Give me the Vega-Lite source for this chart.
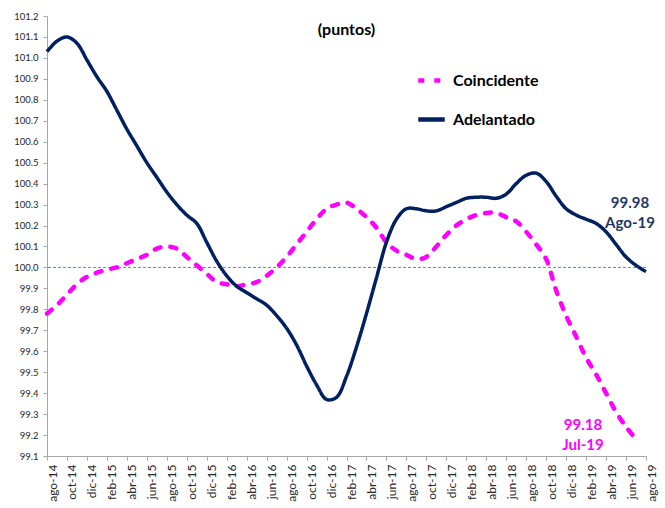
{
  "$schema": "https://vega.github.io/schema/vega-lite/v6.json",
  "autosize": {"type": "none"},
  "width": 599,
  "height": 440,
  "padding": {"left": 47, "top": 16, "right": 19, "bottom": 52},
  "background": "white",
  "title": {"text": "(puntos)", "fontSize": 16, "fontWeight": "bold", "font": "Lato", "color": "black", "anchor": "middle", "offset": -27},
  "datasets": {
    "series": [
      {"mes": "ago-14", "serie": "Adelantado", "v": 101.03},
      {"mes": "sep-14", "serie": "Adelantado", "v": 101.08},
      {"mes": "oct-14", "serie": "Adelantado", "v": 101.10},
      {"mes": "nov-14", "serie": "Adelantado", "v": 101.07},
      {"mes": "dic-14", "serie": "Adelantado", "v": 100.99},
      {"mes": "ene-15", "serie": "Adelantado", "v": 100.91},
      {"mes": "feb-15", "serie": "Adelantado", "v": 100.84},
      {"mes": "mar-15", "serie": "Adelantado", "v": 100.75},
      {"mes": "abr-15", "serie": "Adelantado", "v": 100.66},
      {"mes": "may-15", "serie": "Adelantado", "v": 100.58},
      {"mes": "jun-15", "serie": "Adelantado", "v": 100.50},
      {"mes": "jul-15", "serie": "Adelantado", "v": 100.43},
      {"mes": "ago-15", "serie": "Adelantado", "v": 100.36},
      {"mes": "sep-15", "serie": "Adelantado", "v": 100.30},
      {"mes": "oct-15", "serie": "Adelantado", "v": 100.25},
      {"mes": "nov-15", "serie": "Adelantado", "v": 100.21},
      {"mes": "dic-15", "serie": "Adelantado", "v": 100.12},
      {"mes": "ene-16", "serie": "Adelantado", "v": 100.03},
      {"mes": "feb-16", "serie": "Adelantado", "v": 99.96},
      {"mes": "mar-16", "serie": "Adelantado", "v": 99.91},
      {"mes": "abr-16", "serie": "Adelantado", "v": 99.88},
      {"mes": "may-16", "serie": "Adelantado", "v": 99.85},
      {"mes": "jun-16", "serie": "Adelantado", "v": 99.82},
      {"mes": "jul-16", "serie": "Adelantado", "v": 99.77},
      {"mes": "ago-16", "serie": "Adelantado", "v": 99.71},
      {"mes": "sep-16", "serie": "Adelantado", "v": 99.63},
      {"mes": "oct-16", "serie": "Adelantado", "v": 99.53},
      {"mes": "nov-16", "serie": "Adelantado", "v": 99.44},
      {"mes": "dic-16", "serie": "Adelantado", "v": 99.37},
      {"mes": "ene-17", "serie": "Adelantado", "v": 99.38},
      {"mes": "feb-17", "serie": "Adelantado", "v": 99.48},
      {"mes": "mar-17", "serie": "Adelantado", "v": 99.62},
      {"mes": "abr-17", "serie": "Adelantado", "v": 99.78},
      {"mes": "may-17", "serie": "Adelantado", "v": 99.95},
      {"mes": "jun-17", "serie": "Adelantado", "v": 100.12},
      {"mes": "jul-17", "serie": "Adelantado", "v": 100.23},
      {"mes": "ago-17", "serie": "Adelantado", "v": 100.28},
      {"mes": "sep-17", "serie": "Adelantado", "v": 100.28},
      {"mes": "oct-17", "serie": "Adelantado", "v": 100.27},
      {"mes": "nov-17", "serie": "Adelantado", "v": 100.27},
      {"mes": "dic-17", "serie": "Adelantado", "v": 100.29},
      {"mes": "ene-18", "serie": "Adelantado", "v": 100.31},
      {"mes": "feb-18", "serie": "Adelantado", "v": 100.33},
      {"mes": "mar-18", "serie": "Adelantado", "v": 100.335},
      {"mes": "abr-18", "serie": "Adelantado", "v": 100.335},
      {"mes": "may-18", "serie": "Adelantado", "v": 100.33},
      {"mes": "jun-18", "serie": "Adelantado", "v": 100.35},
      {"mes": "jul-18", "serie": "Adelantado", "v": 100.40},
      {"mes": "ago-18", "serie": "Adelantado", "v": 100.44},
      {"mes": "sep-18", "serie": "Adelantado", "v": 100.45},
      {"mes": "oct-18", "serie": "Adelantado", "v": 100.41},
      {"mes": "nov-18", "serie": "Adelantado", "v": 100.34},
      {"mes": "dic-18", "serie": "Adelantado", "v": 100.28},
      {"mes": "ene-19", "serie": "Adelantado", "v": 100.25},
      {"mes": "feb-19", "serie": "Adelantado", "v": 100.23},
      {"mes": "mar-19", "serie": "Adelantado", "v": 100.21},
      {"mes": "abr-19", "serie": "Adelantado", "v": 100.17},
      {"mes": "may-19", "serie": "Adelantado", "v": 100.11},
      {"mes": "jun-19", "serie": "Adelantado", "v": 100.05},
      {"mes": "jul-19", "serie": "Adelantado", "v": 100.01},
      {"mes": "ago-19", "serie": "Adelantado", "v": 99.98},
      {"mes": "ago-14", "serie": "Coincidente", "v": 99.78},
      {"mes": "sep-14", "serie": "Coincidente", "v": 99.82},
      {"mes": "oct-14", "serie": "Coincidente", "v": 99.87},
      {"mes": "nov-14", "serie": "Coincidente", "v": 99.92},
      {"mes": "dic-14", "serie": "Coincidente", "v": 99.955},
      {"mes": "ene-15", "serie": "Coincidente", "v": 99.975},
      {"mes": "feb-15", "serie": "Coincidente", "v": 99.99},
      {"mes": "mar-15", "serie": "Coincidente", "v": 100.00},
      {"mes": "abr-15", "serie": "Coincidente", "v": 100.02},
      {"mes": "may-15", "serie": "Coincidente", "v": 100.04},
      {"mes": "jun-15", "serie": "Coincidente", "v": 100.06},
      {"mes": "jul-15", "serie": "Coincidente", "v": 100.09},
      {"mes": "ago-15", "serie": "Coincidente", "v": 100.10},
      {"mes": "sep-15", "serie": "Coincidente", "v": 100.09},
      {"mes": "oct-15", "serie": "Coincidente", "v": 100.05},
      {"mes": "nov-15", "serie": "Coincidente", "v": 100.01},
      {"mes": "dic-15", "serie": "Coincidente", "v": 99.97},
      {"mes": "ene-16", "serie": "Coincidente", "v": 99.93},
      {"mes": "feb-16", "serie": "Coincidente", "v": 99.92},
      {"mes": "mar-16", "serie": "Coincidente", "v": 99.91},
      {"mes": "abr-16", "serie": "Coincidente", "v": 99.92},
      {"mes": "may-16", "serie": "Coincidente", "v": 99.93},
      {"mes": "jun-16", "serie": "Coincidente", "v": 99.96},
      {"mes": "jul-16", "serie": "Coincidente", "v": 100.00},
      {"mes": "ago-16", "serie": "Coincidente", "v": 100.05},
      {"mes": "sep-16", "serie": "Coincidente", "v": 100.11},
      {"mes": "oct-16", "serie": "Coincidente", "v": 100.17},
      {"mes": "nov-16", "serie": "Coincidente", "v": 100.23},
      {"mes": "dic-16", "serie": "Coincidente", "v": 100.28},
      {"mes": "ene-17", "serie": "Coincidente", "v": 100.30},
      {"mes": "feb-17", "serie": "Coincidente", "v": 100.31},
      {"mes": "mar-17", "serie": "Coincidente", "v": 100.28},
      {"mes": "abr-17", "serie": "Coincidente", "v": 100.24},
      {"mes": "may-17", "serie": "Coincidente", "v": 100.19},
      {"mes": "jun-17", "serie": "Coincidente", "v": 100.12},
      {"mes": "jul-17", "serie": "Coincidente", "v": 100.08},
      {"mes": "ago-17", "serie": "Coincidente", "v": 100.06},
      {"mes": "sep-17", "serie": "Coincidente", "v": 100.04},
      {"mes": "oct-17", "serie": "Coincidente", "v": 100.05},
      {"mes": "nov-17", "serie": "Coincidente", "v": 100.10},
      {"mes": "dic-17", "serie": "Coincidente", "v": 100.155},
      {"mes": "ene-18", "serie": "Coincidente", "v": 100.20},
      {"mes": "feb-18", "serie": "Coincidente", "v": 100.23},
      {"mes": "mar-18", "serie": "Coincidente", "v": 100.25},
      {"mes": "abr-18", "serie": "Coincidente", "v": 100.26},
      {"mes": "may-18", "serie": "Coincidente", "v": 100.26},
      {"mes": "jun-18", "serie": "Coincidente", "v": 100.24},
      {"mes": "jul-18", "serie": "Coincidente", "v": 100.22},
      {"mes": "ago-18", "serie": "Coincidente", "v": 100.17},
      {"mes": "sep-18", "serie": "Coincidente", "v": 100.11},
      {"mes": "oct-18", "serie": "Coincidente", "v": 100.04},
      {"mes": "nov-18", "serie": "Coincidente", "v": 99.89},
      {"mes": "dic-18", "serie": "Coincidente", "v": 99.77},
      {"mes": "ene-19", "serie": "Coincidente", "v": 99.67},
      {"mes": "feb-19", "serie": "Coincidente", "v": 99.57},
      {"mes": "mar-19", "serie": "Coincidente", "v": 99.49},
      {"mes": "abr-19", "serie": "Coincidente", "v": 99.40},
      {"mes": "may-19", "serie": "Coincidente", "v": 99.31},
      {"mes": "jun-19", "serie": "Coincidente", "v": 99.24},
      {"mes": "jul-19", "serie": "Coincidente", "v": 99.18}
    ],
    "anotaciones": [
      {"mes": "ago-19", "serie": "Adelantado", "v": 99.98, "etiqueta": "99.98\nAgo-19"},
      {"mes": "jul-19", "serie": "Coincidente", "v": 99.18, "etiqueta": "99.18\nJul-19"}
    ],
    "referencia": [{"nivel": 100.0}]
  },
  "encoding": {
    "x": {
      "field": "mes", "type": "ordinal",
      "scale": {"type": "point", "padding": 0, "domain": ["ago-14","sep-14","oct-14","nov-14","dic-14","ene-15","feb-15","mar-15","abr-15","may-15","jun-15","jul-15","ago-15","sep-15","oct-15","nov-15","dic-15","ene-16","feb-16","mar-16","abr-16","may-16","jun-16","jul-16","ago-16","sep-16","oct-16","nov-16","dic-16","ene-17","feb-17","mar-17","abr-17","may-17","jun-17","jul-17","ago-17","sep-17","oct-17","nov-17","dic-17","ene-18","feb-18","mar-18","abr-18","may-18","jun-18","jul-18","ago-18","sep-18","oct-18","nov-18","dic-18","ene-19","feb-19","mar-19","abr-19","may-19","jun-19","jul-19","ago-19"]},
      "axis": {
        "title": null,
        "values": ["ago-14","oct-14","dic-14","feb-15","abr-15","jun-15","ago-15","oct-15","dic-15","feb-16","abr-16","jun-16","ago-16","oct-16","dic-16","feb-17","abr-17","jun-17","ago-17","oct-17","dic-17","feb-18","abr-18","jun-18","ago-18","oct-18","dic-18","feb-19","abr-19","jun-19","ago-19"],
        "labelAngle": -90, "labelFont": "Lato", "labelFontSize": 12, "labelColor": "#262626",
        "labelOffset": 5, "labelPadding": 4, "tickSize": 4, "tickColor": "#a6a6a6", "domainColor": "#a6a6a6", "grid": false
      }
    },
    "y": {
      "field": "v", "type": "quantitative",
      "scale": {"domain": [99.1, 101.2], "nice": false, "zero": false},
      "axis": {
        "title": null,
        "values": [99.1,99.2,99.3,99.4,99.5,99.6,99.7,99.8,99.9,100.0,100.1,100.2,100.3,100.4,100.5,100.6,100.7,100.8,100.9,101.0,101.1,101.2],
        "format": ".1f", "labelFont": "Lato", "labelFontSize": 9.5, "labelColor": "#262626",
        "labelPadding": 5, "tickSize": 4, "tickColor": "#a6a6a6", "domainColor": "#a6a6a6", "grid": false
      }
    }
  },
  "layer": [
    {
      "data": {"name": "referencia"},
      "mark": {"type": "rule", "stroke": "#4a8fd8", "strokeWidth": 1, "strokeDash": [3, 2]},
      "encoding": {"x": null, "y": {"field": "nivel", "type": "quantitative"}}
    },
    {
      "data": {"name": "series"},
      "transform": [{"filter": "datum.serie === 'Coincidente'"}],
      "mark": {"type": "line", "strokeWidth": 4.5, "strokeCap": "round", "interpolate": "catmull-rom"},
      "encoding": {
        "color": {"field": "serie", "type": "nominal", "scale": {"domain": ["Coincidente", "Adelantado"], "range": ["#ff00ff", "#002060"]},
          "legend": {"orient": "none", "legendX": 369, "legendY": 49, "title": null, "labelFont": "Lato", "labelFontSize": 16, "labelFontWeight": "bold", "labelColor": "black", "symbolType": "stroke", "symbolStrokeWidth": 4.5, "symbolSize": 700, "rowPadding": 14, "labelOffset": 6}},
        "strokeDash": {"field": "serie", "type": "nominal", "scale": {"domain": ["Coincidente", "Adelantado"], "range": [[6, 10], [1, 0]]}}
      }
    },
    {
      "data": {"name": "series"},
      "transform": [{"filter": "datum.serie === 'Adelantado'"}],
      "mark": {"type": "line", "strokeWidth": 3.5, "interpolate": "catmull-rom"},
      "encoding": {
        "color": {"field": "serie", "type": "nominal"},
        "strokeDash": {"field": "serie", "type": "nominal"}
      }
    },
    {
      "data": {"name": "anotaciones"},
      "transform": [{"filter": "datum.serie === 'Adelantado'"}],
      "mark": {"type": "text", "font": "Lato", "fontSize": 15, "fontWeight": "bold", "color": "#1f3864", "lineBreak": "\n", "lineHeight": 20, "align": "center", "baseline": "middle", "dx": -16, "dy": -69},
      "encoding": {"text": {"field": "etiqueta"}}
    },
    {
      "data": {"name": "anotaciones"},
      "transform": [{"filter": "datum.serie === 'Coincidente'"}],
      "mark": {"type": "text", "font": "Lato", "fontSize": 15, "fontWeight": "bold", "color": "#ff00ff", "lineBreak": "\n", "lineHeight": 20, "align": "center", "baseline": "middle", "dx": -53, "dy": -14},
      "encoding": {"text": {"field": "etiqueta"}}
    }
  ],
  "config": {"view": {"stroke": null}}
}
